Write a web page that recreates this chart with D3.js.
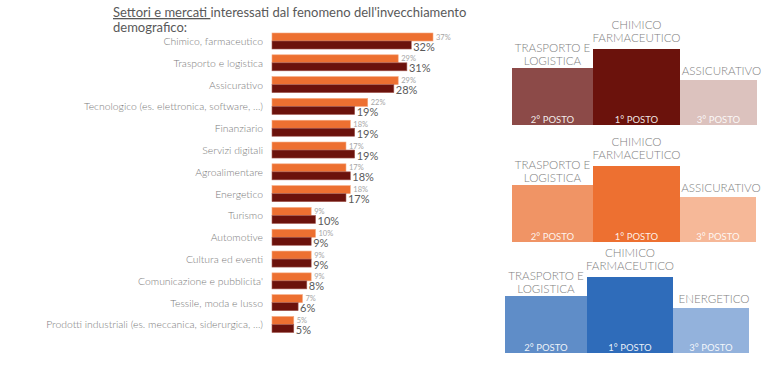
<!DOCTYPE html>
<html>
<head>
<meta charset="utf-8">
<script src="https://cdn.jsdelivr.net/npm/d3@7"></script>
<style>
  body { margin: 0; background: #fff; }
  svg { display: block; font-family: Lato, "Open Sans", sans-serif; }
</style>
</head>
<body>
<svg id="chart" width="768" height="373"></svg>
<script>
// settori (ordine come nel grafico)
const categories = [
  "Chimico, farmaceutico",
  "Trasporto e logistica",
  "Assicurativo",
  "Tecnologico (es. elettronica, software, ...)",
  "Finanziario",
  "Servizi digitali",
  "Agroalimentare",
  "Energetico",
  "Turismo",
  "Automotive",
  "Cultura ed eventi",
  "Comunicazione e pubblicita'",
  "Tessile, moda e lusso",
  "Prodotti industriali (es. meccanica, siderurgica, ...)"
];
const seriesOrange = [37, 29, 29, 22, 18, 17, 17, 18, 9, 10, 9, 9, 7, 5];
const seriesDark   = [32, 31, 28, 19, 19, 19, 18, 17, 10, 9, 9, 8, 6, 5];

// podi: ordine di disegno 2°, 1°, 3°
const podiumRanks = [2, 1, 3];
const podiumNames1 = [["TRASPORTO E", "LOGISTICA"], ["CHIMICO", "FARMACEUTICO"], ["ASSICURATIVO"]];
const podiumNames2 = [["TRASPORTO E", "LOGISTICA"], ["CHIMICO", "FARMACEUTICO"], ["ASSICURATIVO"]];
const podiumNames3 = [["TRASPORTO E", "LOGISTICA"], ["CHIMICO", "FARMACEUTICO"], ["ENERGETICO"]];

var svg = d3.select("#chart");

// Title
var title = svg.append("text")
  .attr("x", 113).attr("y", 17)
  .style("font-size", "13px")
  .attr("fill", "#595959");
title.append("tspan").text("Settori e mercati\u00a0").style("text-decoration", "underline");
title.append("tspan").text("interessati dal fenomeno dell'invecchiamento");
svg.append("text")
  .attr("x", 113).attr("y", 32)
  .style("font-size", "13px")
  .attr("fill", "#595959")
  .text("demografico:");

// Bar chart
var x = d3.scaleLinear().domain([0, 37]).range([272, 433]);
var y = d3.scaleBand().domain(categories).range([33, 332.5]).paddingInner(0.266).paddingOuter(0);
var half = y.bandwidth() / 2;

var rows = svg.append("g").selectAll("g")
  .data(categories)
  .enter().append("g");

rows.append("rect")
  .attr("x", x(0))
  .attr("y", d => y(d))
  .attr("width", (d, i) => x(seriesOrange[i]) - x(0))
  .attr("height", half)
  .attr("fill", "#ED7031")
  .attr("stroke", "#f5a77e")
  .attr("stroke-width", 0.6);

rows.append("rect")
  .attr("x", x(0))
  .attr("y", d => y(d) + half)
  .attr("width", (d, i) => x(seriesDark[i]) - x(0))
  .attr("height", half)
  .attr("fill", "#6B120C")
  .attr("stroke", "#a35a52")
  .attr("stroke-width", 0.6);

rows.append("text")
  .attr("x", (d, i) => x(seriesOrange[i]) + 3)
  .attr("y", d => y(d) + half - 1.5)
  .style("font-size", "7.5px")
  .attr("fill", "#a6a6a6")
  .text((d, i) => seriesOrange[i] + "%");

rows.append("text")
  .attr("x", (d, i) => x(seriesDark[i]) + 2)
  .attr("y", d => y(d) + 2 * half + 1.5)
  .style("font-size", "11px")
  .attr("fill", "#595959")
  .text((d, i) => seriesDark[i] + "%");

rows.append("text")
  .attr("x", 263)
  .attr("y", d => y(d) + half + 4)
  .attr("text-anchor", "end")
  .style("font-size", "10.4px")
  .style("font-weight", 300)
  .attr("fill", "#7a7a7a")
  .text(d => d);

// Podi
var rankHeight = d3.scaleOrdinal().domain([1, 2, 3]).range([76, 57, 45]);
var nameGap = [3, 7, 5];

function drawPodium(x0, base, widths, colors, names) {
  var xs = [x0, x0 + widths[0], x0 + widths[0] + widths[1]];
  var g = svg.append("g");
  podiumRanks.forEach(function(r, i) {
    var h = rankHeight(r);
    g.append("rect")
      .attr("x", xs[i]).attr("y", base - h)
      .attr("width", widths[i]).attr("height", h)
      .attr("fill", colors[i]);
    g.append("text")
      .attr("x", xs[i] + widths[i] / 2)
      .attr("y", base - 2.5)
      .attr("text-anchor", "middle")
      .style("font-size", "9.5px")
      .attr("fill", "#fff")
      .attr("fill-opacity", 0.9)
      .text(r + "° POSTO");
    var lines = names[i];
    lines.forEach(function(t, k) {
      g.append("text")
        .attr("x", xs[i] + widths[i] / 2 + (i == 2 ? 3 : 0))
        .attr("y", base - h - nameGap[i] - (lines.length - 1 - k) * 13.5)
        .attr("text-anchor", "middle")
        .style("font-size", "11.6px")
        .style("font-weight", 300)
        .attr("fill", "#7f7f7f")
        .text(t);
    });
  });
}

drawPodium(512, 125, [81, 87, 77], ["#8C4A48", "#6B120C", "#DCC2BE"], podiumNames1);
drawPodium(512, 242, [81, 87, 76], ["#F09465", "#ED7031", "#F6B898"], podiumNames2);
drawPodium(505, 353, [82, 86, 76], ["#5F8DC8", "#2F6CBA", "#93B2DC"], podiumNames3);
</script>
</body>
</html>
